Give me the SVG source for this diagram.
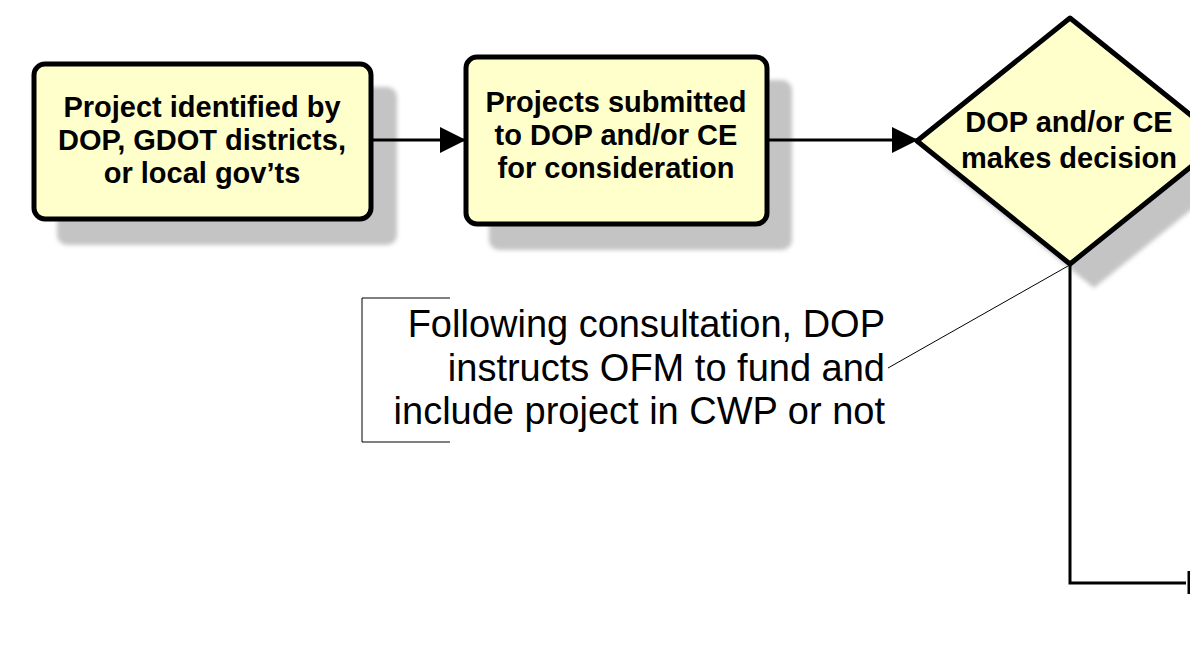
<svg xmlns="http://www.w3.org/2000/svg" width="1190" height="650" viewBox="0 0 1190 650">
<defs>
<filter id="blur" x="-10%" y="-10%" width="120%" height="120%"><feGaussianBlur stdDeviation="2"/></filter>
<marker id="arr" viewBox="0 0 26 26" refX="25" refY="13" markerWidth="26" markerHeight="26" markerUnits="userSpaceOnUse" orient="auto"><path d="M0,0 L26,13 L0,26 Z" fill="#000"/></marker>
</defs>
<style>
.shadow{fill:#c4c4c4;filter:url(#blur)}
.node{fill:#ffffcc;stroke:#000;stroke-width:5}
.lbl{font-family:"Liberation Sans",Arial,sans-serif;font-weight:bold;font-size:29px;text-anchor:middle;fill:#000}
.note{font-family:"Liberation Sans",Arial,sans-serif;font-size:38px;text-anchor:end;fill:#000}
.conn{stroke:#000;stroke-width:3;fill:none}
.thin{stroke:#000;stroke-width:1;fill:none}
</style>
<rect width="1190" height="650" fill="#fff"/>
<g id="node1">
<rect class="shadow" x="57" y="87" width="340" height="158" rx="10"/>
<rect class="node" x="34" y="64" width="337" height="155" rx="11"/>
<text class="lbl" x="202" y="117">Project identified by</text>
<text class="lbl" x="202" y="150">DOP, GDOT districts,</text>
<text class="lbl" x="202" y="183">or local gov’ts</text>
</g>
<g id="node2">
<rect class="shadow" x="489" y="80" width="303" height="170" rx="10"/>
<rect class="node" x="466" y="57" width="301" height="167" rx="11"/>
<text class="lbl" x="616" y="112">Projects submitted</text>
<text class="lbl" x="616" y="145">to DOP and/or CE</text>
<text class="lbl" x="616" y="178">for consideration</text>
</g>
<g id="node3">
<path class="shadow" d="M1094,42 L1247,165 L1094,288 L941,165 Z"/>
<path class="node" stroke-linejoin="round" d="M1070,18 L1223,141 L1070,264 L917,141 Z"/>
<text class="lbl" x="1069" y="132">DOP and/or CE</text>
<text class="lbl" x="1069" y="168">makes decision</text>
</g>
<g id="note">
<path class="thin" d="M450,298 L362,298 L362,442 L450,442"/>
<text class="note" x="885" y="337">Following consultation, DOP</text>
<text class="note" x="885" y="381">instructs OFM to fund and</text>
<text class="note" x="885" y="424">include project in CWP or not</text>
</g>
<g id="connectors">
<line class="conn" x1="371" y1="140" x2="465" y2="140" marker-end="url(#arr)"/>
<line class="conn" x1="767" y1="140" x2="917" y2="140" marker-end="url(#arr)"/>
<line class="thin" x1="888" y1="368" x2="1068" y2="266"/>
<path class="conn" d="M1070,264 L1070,583 L1186,583"/>
<line class="conn" x1="1189" y1="571" x2="1189" y2="594"/>
</g>
</svg>
